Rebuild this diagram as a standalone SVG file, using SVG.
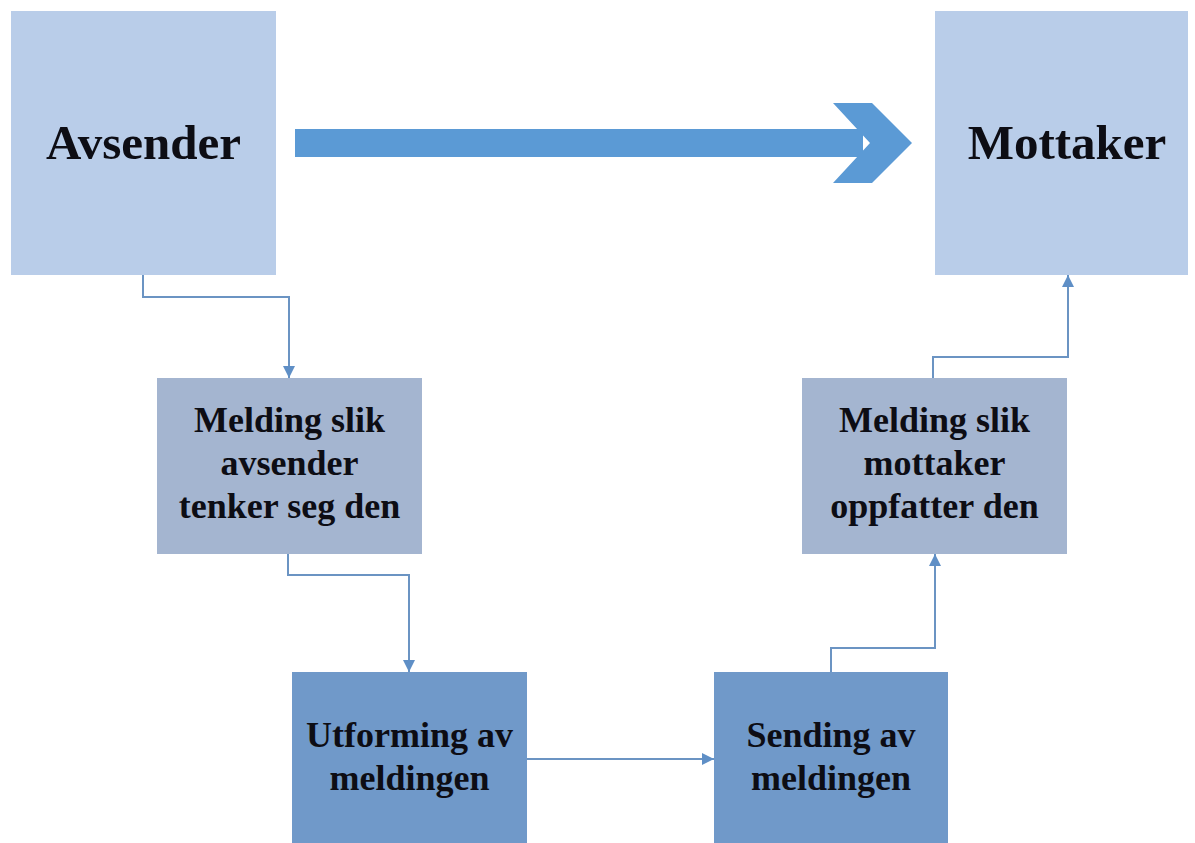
<svg xmlns="http://www.w3.org/2000/svg" width="1195" height="843" viewBox="0 0 1195 843">
  <style>
    .big { fill: #B9CDE9; }
    .mid { fill: #A4B5D0; }
    .low { fill: #7099C9; }
    .t1 { font-family: "Liberation Serif", "Times New Roman", serif; font-weight: bold; font-size: 49px; fill: #0d0d14; text-anchor: middle; }
    .t2 { font-family: "Liberation Serif", "Times New Roman", serif; font-weight: bold; font-size: 36px; fill: #0d0d14; text-anchor: middle; }
    .conn { fill: none; stroke: #6B94C3; stroke-width: 2; }
  </style>
  <defs>
    <marker id="ah" viewBox="0 0 12 12" refX="12" refY="6" markerWidth="12" markerHeight="12" markerUnits="userSpaceOnUse" orient="auto">
      <path d="M0,0 L12,6 L0,12 Z" fill="#5F8FC6"/>
    </marker>
  </defs>
  <rect width="1195" height="843" fill="#ffffff"/>

  <g id="avsender">
    <rect class="big" x="11" y="11" width="265" height="264"/>
    <text class="t1" x="143.5" y="159">Avsender</text>
  </g>

  <g id="mottaker">
    <rect class="big" x="935" y="11" width="253" height="264"/>
    <text class="t1" x="1067" y="159">Mottaker</text>
  </g>

  <g id="big-arrow">
    <rect x="295" y="129" width="568" height="28" fill="#5B9AD5"/>
    <polygon points="833,103 872,103 912,143 872,183 833,183 870,143" fill="#5B9AD5"/>
  </g>

  <g id="melding-avsender">
    <rect class="mid" x="157" y="378" width="265" height="176"/>
    <text class="t2" x="289.5" y="432">Melding slik</text>
    <text class="t2" x="289.5" y="475">avsender</text>
    <text class="t2" x="289.5" y="518">tenker seg den</text>
  </g>

  <g id="melding-mottaker">
    <rect class="mid" x="802" y="378" width="265" height="176"/>
    <text class="t2" x="934.5" y="432">Melding slik</text>
    <text class="t2" x="934.5" y="475">mottaker</text>
    <text class="t2" x="934.5" y="518">oppfatter den</text>
  </g>

  <g id="utforming">
    <rect class="low" x="292" y="672" width="235" height="171"/>
    <text class="t2" x="409.5" y="747">Utforming av</text>
    <text class="t2" x="409.5" y="790">meldingen</text>
  </g>

  <g id="sending">
    <rect class="low" x="714" y="672" width="234" height="171"/>
    <text class="t2" x="831" y="747">Sending av</text>
    <text class="t2" x="831" y="790">meldingen</text>
  </g>

  <g id="connectors">
    <path class="conn" d="M143,275 V297 H289 V378" marker-end="url(#ah)"/>
    <path class="conn" d="M288,554 V575 H409 V672" marker-end="url(#ah)"/>
    <path class="conn" d="M527,759 H714" marker-end="url(#ah)"/>
    <path class="conn" d="M831,672 V648 H935 V554" marker-end="url(#ah)"/>
    <path class="conn" d="M933,378 V357 H1068 V275" marker-end="url(#ah)"/>
  </g>
</svg>
